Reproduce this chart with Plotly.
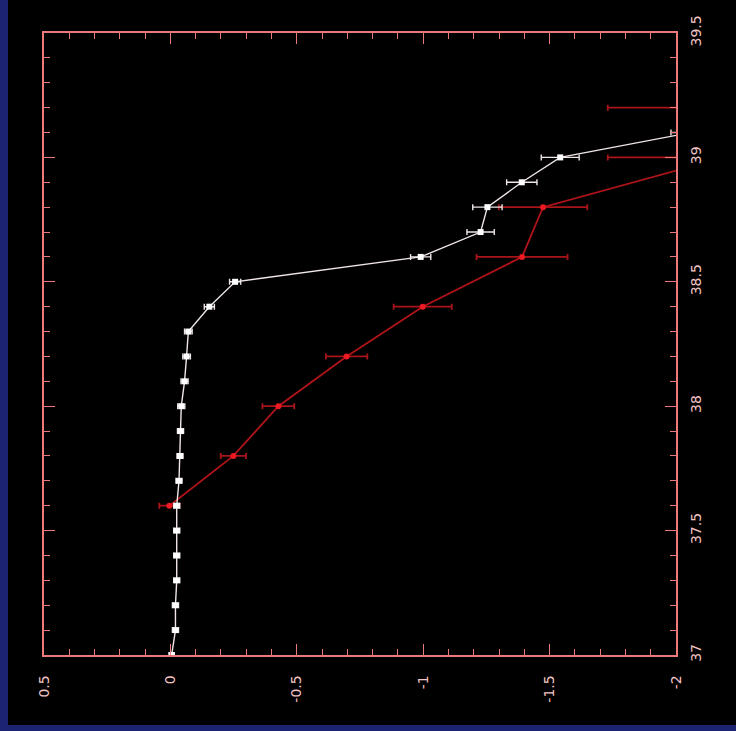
import plotly.graph_objects as go

# White series (squares)
white_t = [37.0, 37.1, 37.2, 37.3, 37.4, 37.5, 37.6, 37.7, 37.8, 37.9, 38.0,
           38.1, 38.2, 38.3, 38.4, 38.5, 38.6, 38.7, 38.8, 38.9, 39.0, 39.1]
white_v = [-0.005, -0.02, -0.02, -0.025, -0.025, -0.025, -0.025, -0.034, -0.038, -0.04, -0.043,
           -0.056, -0.064, -0.071, -0.154, -0.256, -0.99, -1.227, -1.254, -1.39, -1.542, -2.06]
white_err = [0.01, 0.012, 0.012, 0.012, 0.012, 0.012, 0.012, 0.012, 0.012, 0.012, 0.014,
             0.014, 0.015, 0.015, 0.02, 0.022, 0.04, 0.054, 0.058, 0.06, 0.075, 0.08]

# Red series (circles)
red_t = [37.6, 37.8, 38.0, 38.2, 38.4, 38.6, 38.8, 39.0, 39.2]
red_v = [0.004, -0.249, -0.427, -0.697, -0.998, -1.391, -1.474, -2.19, -2.4]
red_err = [0.04, 0.05, 0.063, 0.082, 0.115, 0.18, 0.175, 0.46, 0.67]

x_tickvals = [0.5, 0, -0.5, -1, -1.5, -2]
x_ticktext = ["0.5", "0", "-0.5", "-1", "-1.5", "-2"]
y_tickvals = [37, 37.5, 38, 38.5, 39, 39.5]
y_ticktext = ["37", "37.5", "38", "38.5", "39", "39.5"]

frame_col = "#ec7a7a"
label_col = "#f2c4c4"

fig = go.Figure()
fig.add_trace(go.Scatter(
    x=red_v, y=red_t, mode="lines+markers",
    line=dict(color="#b0141a", width=1.8),
    marker=dict(symbol="circle", size=6, color="#ec1a22"),
    error_x=dict(type="data", array=red_err, visible=True,
                 color="#a8141a", thickness=1.8, width=3),
    hoverinfo="skip"))
fig.add_trace(go.Scatter(
    x=white_v, y=white_t, mode="lines+markers",
    line=dict(color="#f0e6e6", width=1.4),
    marker=dict(symbol="square", size=6, color="#ffffff"),
    error_x=dict(type="data", array=white_err, visible=True,
                 color="#f0e6e6", thickness=1.4, width=3),
    hoverinfo="skip"))

W, H = 736, 731
L, R, T, B = 44, 60, 33, 76
pw, ph = W - L - R, H - T - B

def px_to_paper_x(px):
    return (px - L) / pw

def px_to_paper_y(py):
    return (H - B - py) / ph

shapes = [
    dict(type="rect", xref="paper", yref="paper",
         x0=px_to_paper_x(0), x1=px_to_paper_x(8),
         y0=px_to_paper_y(731), y1=px_to_paper_y(0),
         fillcolor="#1c2370", line=dict(width=0), layer="below"),
    dict(type="rect", xref="paper", yref="paper",
         x0=px_to_paper_x(0), x1=px_to_paper_x(736),
         y0=px_to_paper_y(731), y1=px_to_paper_y(725),
         fillcolor="#1c2370", line=dict(width=0), layer="below"),
]

fig.update_layout(
    width=W, height=H,
    margin=dict(l=L, r=R, t=T, b=B, pad=0),
    paper_bgcolor="black", plot_bgcolor="black",
    showlegend=False,
    shapes=shapes,
    font=dict(family="DejaVu Sans", size=14, color=label_col),
    xaxis=dict(
        range=[0.5, -2], showgrid=False, zeroline=False,
        showline=True, linecolor=frame_col, linewidth=1.5, mirror="ticks",
        ticks="inside", ticklen=11, tickwidth=1.2, tickcolor=frame_col,
        tickvals=x_tickvals, ticktext=x_ticktext, tickangle=-90,
        ticklabelstandoff=13,
        minor=dict(ticks="inside", ticklen=6, tickwidth=1.2, tickcolor=frame_col, dtick=0.1, tick0=0, showgrid=False),
    ),
    yaxis=dict(
        range=[37, 39.5], side="right", showgrid=False, zeroline=False,
        showline=True, linecolor=frame_col, linewidth=1.5, mirror="ticks",
        ticks="inside", ticklen=11, tickwidth=1.2, tickcolor=frame_col,
        tickvals=y_tickvals, ticktext=y_ticktext, tickangle=-90,
        ticklabelstandoff=6,
        minor=dict(ticks="inside", ticklen=6, tickwidth=1.2, tickcolor=frame_col, dtick=0.1, tick0=37, showgrid=False),
    ),
)

fig.write_html("out.html", config={"displayModeBar": False},
               post_script="document.body.style.margin='0';document.body.style.background='black';document.body.style.overflow='hidden';")
